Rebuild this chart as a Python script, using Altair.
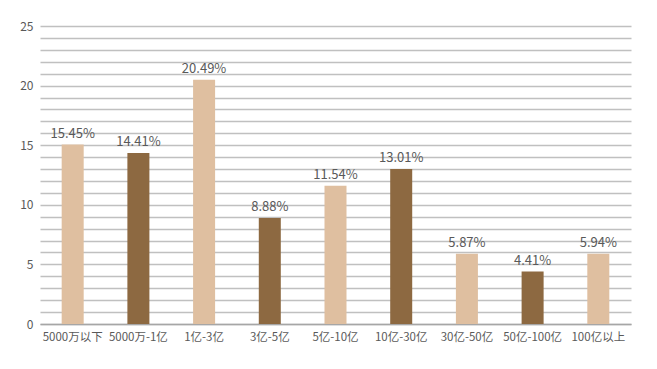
import altair as alt
import pandas as pd

categories = ["5000万以下", "5000万-1亿", "1亿-3亿", "3亿-5亿", "5亿-10亿",
              "10亿-30亿", "30亿-50亿", "50亿-100亿", "100亿以上"]
bar_values = [15.05, 14.35, 20.5, 8.9, 11.6, 13.0, 5.9, 4.4, 5.9]
labels = ["15.45%", "14.41%", "20.49%", "8.88%", "11.54%", "13.01%", "5.87%", "4.41%", "5.94%"]
shade = ["light", "dark", "light", "dark", "light", "dark", "light", "dark", "light"]
grid_values = list(range(0, 26))

df = pd.DataFrame({"cat": categories, "v": bar_values, "label": labels, "shade": shade})

font = "Noto Sans CJK SC"

base = alt.Chart(df).encode(
    x=alt.X("cat:N", sort=categories, title=None,
            scale=alt.Scale(paddingInner=0.665, paddingOuter=0.33),
            axis=alt.Axis(labelAngle=0, ticks=False, domain=True, domainColor="#a6a6a6",
                          domainWidth=1.5, labelFont=font, labelFontSize=11.5,
                          labelColor="#595959", labelPadding=7)),
    y=alt.Y("v:Q", title=None,
            scale=alt.Scale(domain=[0, 25], nice=False),
            axis=alt.Axis(values=grid_values, ticks=False, domain=False,
                          labelExpr="datum.value % 5 === 0 ? datum.label : ''",
                          labelOverlap=False,
                          gridColor="#c0c0c0", gridWidth=1.5,
                          labelFont=font, labelFontSize=12, labelColor="#595959",
                          labelPadding=7, minExtent=32, maxExtent=32)),
)

bars = base.mark_bar().encode(
    color=alt.Color("shade:N", scale=alt.Scale(domain=["light", "dark"],
                                               range=["#dfbfa0", "#8d6941"]),
                    legend=None),
)

text = base.mark_text(baseline="bottom", dy=-4, font=font, fontSize=13,
                      color="#595959").encode(
    text="label:N",
)

chart = (bars + text).properties(
    width=591, height=298,
    padding={"left": 0, "top": 12, "right": 10, "bottom": 5},
).configure_view(stroke=None)

chart.save("out.html", embed_options={"renderer": "svg", "actions": False})
